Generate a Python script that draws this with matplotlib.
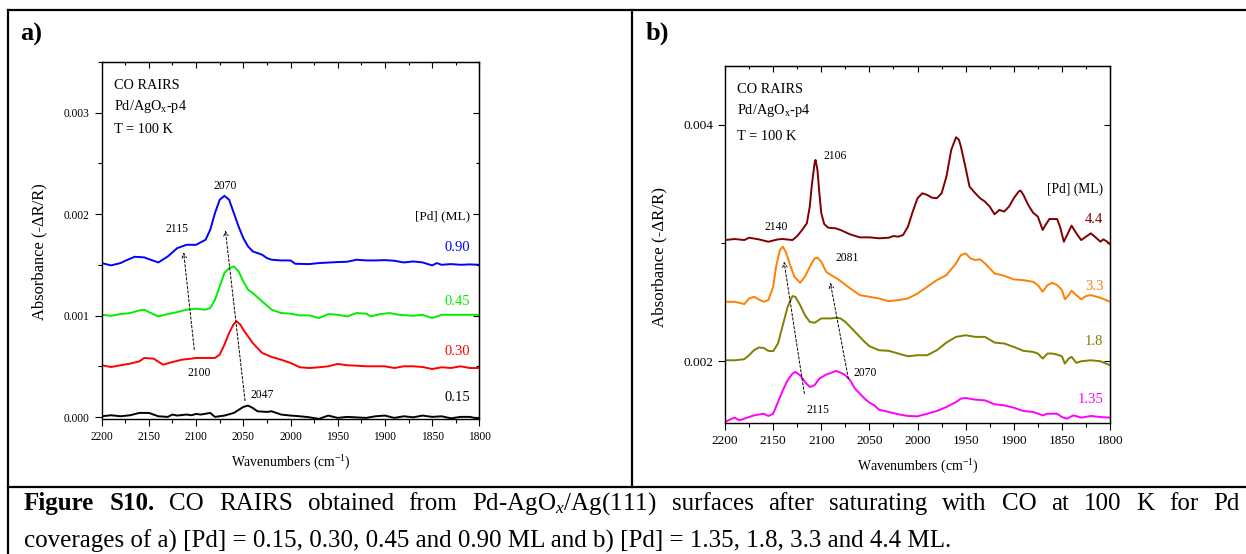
import matplotlib
matplotlib.use("Agg")
import matplotlib.pyplot as plt
from matplotlib.lines import Line2D
from matplotlib.ticker import MultipleLocator, FuncFormatter

plt.rcParams['font.family'] = ['Liberation Serif', 'DejaVu Serif']
plt.rcParams['mathtext.fontset'] = 'custom'
plt.rcParams['mathtext.rm'] = 'Liberation Serif'
plt.rcParams['mathtext.it'] = 'Liberation Serif:italic'
plt.rcParams['mathtext.bf'] = 'Liberation Serif:bold'

# ---- spectra, absorbance in units of 1e-3 ----
# a) Pd = 0.15 ... 0.90 ML
wn_a_090 = [2200, 2190, 2180, 2175, 2165, 2155, 2150, 2140, 2130, 2120, 2110, 2100, 2090, 2085,
            2080, 2075, 2070, 2065, 2060, 2055, 2050, 2045, 2040, 2030, 2025, 2020, 2010, 2000,
            1995, 1980, 1970, 1950, 1940, 1930, 1920, 1910, 1900, 1890, 1880, 1870, 1860, 1850,
            1845, 1840, 1830, 1820, 1810, 1800]
abs_a_090 = [1.518, 1.495, 1.518, 1.541, 1.580, 1.574, 1.557, 1.524, 1.583, 1.665, 1.698, 1.698,
             1.747, 1.846, 2.010, 2.141, 2.180, 2.141, 2.010, 1.878, 1.764, 1.682, 1.633, 1.600,
             1.567, 1.551, 1.544, 1.544, 1.511, 1.508, 1.518, 1.528, 1.531, 1.551, 1.544, 1.544,
             1.547, 1.541, 1.524, 1.534, 1.524, 1.495, 1.518, 1.501, 1.508, 1.501, 1.505, 1.501]

wn_a_045 = [2200, 2190, 2180, 2170, 2160, 2155, 2150, 2140, 2130, 2120, 2110, 2100, 2090, 2085,
            2080, 2075, 2070, 2065, 2060, 2055, 2050, 2045, 2040, 2030, 2020, 2010, 2000, 1990,
            1980, 1970, 1960, 1950, 1940, 1930, 1920, 1915, 1905, 1895, 1885, 1870, 1860, 1850,
            1840, 1830, 1820, 1800]
abs_a_045 = [1.009, 0.999, 1.016, 1.026, 1.052, 1.059, 1.036, 0.993, 1.016, 1.036, 1.059, 1.069,
             1.059, 1.076, 1.157, 1.288, 1.420, 1.469, 1.485, 1.436, 1.338, 1.256, 1.223, 1.141,
             1.059, 1.026, 1.020, 1.003, 1.003, 0.977, 1.016, 1.009, 0.993, 1.026, 1.020, 0.993,
             1.016, 1.026, 1.009, 0.999, 1.009, 0.977, 1.009, 1.009, 1.009, 1.009]

wn_a_030 = [2200, 2190, 2180, 2170, 2160, 2155, 2145, 2135, 2125, 2115, 2105, 2100, 2090, 2080,
            2075, 2070, 2065, 2060, 2057, 2053, 2050, 2045, 2040, 2035, 2030, 2020, 2010, 2000,
            1990, 1980, 1970, 1960, 1950, 1940, 1930, 1920, 1900, 1890, 1880, 1870, 1860, 1850,
            1840, 1830, 1820, 1810, 1800]
abs_a_030 = [0.512, 0.495, 0.512, 0.528, 0.551, 0.584, 0.577, 0.518, 0.544, 0.567, 0.577, 0.584,
             0.584, 0.584, 0.617, 0.715, 0.830, 0.921, 0.944, 0.911, 0.862, 0.797, 0.731, 0.682,
             0.633, 0.594, 0.567, 0.535, 0.492, 0.485, 0.492, 0.502, 0.525, 0.512, 0.508, 0.502,
             0.502, 0.485, 0.502, 0.502, 0.495, 0.475, 0.492, 0.485, 0.502, 0.485, 0.485]

wn_a_015 = [2200, 2190, 2180, 2170, 2160, 2150, 2140, 2130, 2125, 2120, 2110, 2105, 2100, 2095,
            2085, 2080, 2070, 2060, 2050, 2045, 2040, 2035, 2025, 2020, 2010, 2000, 1990, 1980,
            1970, 1960, 1950, 1940, 1920, 1910, 1900, 1890, 1880, 1870, 1860, 1850, 1840, 1830,
            1820, 1810, 1800]
abs_a_015 = [0.010, 0.020, 0.010, 0.020, 0.043, 0.043, 0.010, 0.004, 0.027, 0.017, 0.027, 0.020,
             0.033, 0.027, 0.043, 0.004, 0.017, 0.043, 0.102, 0.115, 0.092, 0.059, 0.053, 0.059,
             0.027, 0.017, 0.010, 0.000, -0.016, 0.017, -0.006, 0.004, -0.006, 0.010, 0.017,
             -0.006, 0.010, 0.000, 0.017, 0.004, 0.010, -0.010, 0.004, 0.004, -0.016]

# b) Pd = 1.35 ... 4.4 ML
wn_b_44 = [2200, 2190, 2180, 2175, 2165, 2155, 2145, 2140, 2130, 2125, 2120, 2115, 2112, 2110,
           2107, 2106, 2104, 2102, 2100, 2097, 2093, 2085, 2080, 2070, 2060, 2050, 2040, 2030,
           2025, 2020, 2015, 2010, 2005, 2000, 1995, 1990, 1985, 1980, 1975, 1970, 1965, 1960,
           1957, 1955, 1950, 1946, 1940, 1935, 1930, 1925, 1920, 1915, 1910, 1905, 1900, 1895,
           1893, 1890, 1885, 1880, 1875, 1870, 1867, 1863, 1855, 1852, 1848, 1843, 1840, 1835,
           1830, 1825, 1820, 1815, 1810, 1807, 1803, 1800]
abs_b_44 = [3.025, 3.034, 3.025, 3.045, 3.031, 3.011, 3.031, 3.034, 3.025, 3.059, 3.110, 3.167,
            3.308, 3.477, 3.675, 3.703, 3.619, 3.421, 3.251, 3.161, 3.130, 3.124, 3.110, 3.073,
            3.048, 3.048, 3.040, 3.045, 3.059, 3.054, 3.068, 3.138, 3.266, 3.379, 3.421, 3.407,
            3.384, 3.379, 3.421, 3.562, 3.788, 3.895, 3.873, 3.816, 3.633, 3.477, 3.421, 3.379,
            3.350, 3.308, 3.243, 3.280, 3.266, 3.308, 3.379, 3.435, 3.444, 3.407, 3.322, 3.257,
            3.223, 3.110, 3.153, 3.203, 3.203, 3.138, 3.011, 3.096, 3.147, 3.082, 3.025, 3.054,
            3.082, 3.048, 3.011, 3.031, 3.011, 2.989]

wn_b_33 = [2200, 2190, 2185, 2180, 2175, 2170, 2165, 2160, 2155, 2150, 2147, 2143, 2140, 2137,
           2133, 2128, 2122, 2117, 2112, 2107, 2104, 2100, 2095, 2090, 2085, 2080, 2070, 2060,
           2050, 2040, 2030, 2020, 2010, 2000, 1990, 1980, 1970, 1960, 1955, 1950, 1945, 1940,
           1935, 1930, 1920, 1910, 1900, 1890, 1880, 1875, 1870, 1865, 1860, 1855, 1850, 1847,
           1843, 1840, 1835, 1830, 1825, 1820, 1810, 1800]
abs_b_33 = [2.503, 2.503, 2.494, 2.483, 2.531, 2.545, 2.523, 2.503, 2.517, 2.630, 2.799, 2.941,
            2.969, 2.927, 2.828, 2.715, 2.664, 2.715, 2.799, 2.870, 2.876, 2.842, 2.757, 2.729,
            2.706, 2.678, 2.616, 2.559, 2.545, 2.531, 2.508, 2.517, 2.531, 2.573, 2.630, 2.686,
            2.729, 2.828, 2.898, 2.912, 2.870, 2.856, 2.862, 2.828, 2.743, 2.723, 2.692, 2.686,
            2.672, 2.644, 2.588, 2.644, 2.664, 2.644, 2.602, 2.525, 2.559, 2.596, 2.559, 2.525,
            2.551, 2.559, 2.537, 2.503]

wn_b_18 = [2200, 2190, 2180, 2175, 2170, 2165, 2160, 2155, 2150, 2145, 2140, 2135, 2130, 2127,
           2122, 2117, 2112, 2107, 2100, 2090, 2085, 2080, 2075, 2070, 2065, 2060, 2055, 2050,
           2040, 2030, 2020, 2010, 2000, 1990, 1980, 1970, 1960, 1950, 1940, 1930, 1920, 1910,
           1900, 1890, 1880, 1875, 1870, 1865, 1860, 1855, 1850, 1847, 1843, 1840, 1835, 1830,
           1820, 1810, 1800]
abs_b_18 = [2.008, 2.008, 2.017, 2.051, 2.093, 2.116, 2.113, 2.088, 2.085, 2.150, 2.305, 2.460,
            2.551, 2.545, 2.475, 2.390, 2.333, 2.325, 2.362, 2.362, 2.367, 2.362, 2.333, 2.291,
            2.249, 2.206, 2.164, 2.127, 2.093, 2.088, 2.065, 2.042, 2.051, 2.051, 2.093, 2.158,
            2.206, 2.220, 2.206, 2.206, 2.158, 2.150, 2.121, 2.088, 2.079, 2.065, 2.023, 2.065,
            2.065, 2.056, 2.042, 1.980, 2.023, 2.037, 1.986, 2.000, 2.008, 2.000, 1.966]

wn_b_135 = [2200, 2195, 2190, 2185, 2180, 2170, 2160, 2155, 2150, 2145, 2140, 2135, 2130, 2127,
            2122, 2117, 2112, 2107, 2102, 2095, 2090, 2085, 2080, 2075, 2070, 2065, 2060, 2055,
            2050, 2045, 2040, 2030, 2020, 2010, 2000, 1990, 1980, 1970, 1960, 1955, 1950, 1940,
            1930, 1920, 1910, 1900, 1890, 1880, 1870, 1865, 1855, 1850, 1845, 1838, 1830, 1820,
            1810, 1800]
abs_b_135 = [1.486, 1.506, 1.523, 1.500, 1.514, 1.542, 1.556, 1.537, 1.556, 1.655, 1.754, 1.839,
             1.895, 1.910, 1.881, 1.825, 1.782, 1.797, 1.853, 1.887, 1.901, 1.918, 1.904, 1.881,
             1.839, 1.768, 1.726, 1.684, 1.650, 1.627, 1.590, 1.571, 1.551, 1.537, 1.534, 1.556,
             1.579, 1.613, 1.655, 1.684, 1.689, 1.675, 1.669, 1.636, 1.627, 1.607, 1.579, 1.571,
             1.542, 1.556, 1.556, 1.528, 1.514, 1.542, 1.523, 1.537, 1.528, 1.523]

labels_a = ['0.15', '0.30', '0.45', '0.90']
labels_b = ['1.35', '1.8', '3.3', '4.4']
colors_a = ['black', '#ff0000', '#00ee00', '#0000ff']
colors_b = ['#ff00ff', '#7f7f00', '#ff8000', '#800000']

series_a = [(wn_a_015, abs_a_015), (wn_a_030, abs_a_030), (wn_a_045, abs_a_045), (wn_a_090, abs_a_090)]
series_b = [(wn_b_135, abs_b_135), (wn_b_18, abs_b_18), (wn_b_33, abs_b_33), (wn_b_44, abs_b_44)]

caption_1 = ['Figure', 'S10.', 'CO', 'RAIRS', 'obtained', 'from', r'Pd-AgO$_\mathit{x}$/Ag(111)',
             'surfaces', 'after', 'saturating', 'with', 'CO', 'at', '100', 'K', 'for', 'Pd']
caption_2 = 'coverages of a) [Pd] = 0.15, 0.30, 0.45 and 0.90 ML and b) [Pd] = 1.35, 1.8, 3.3 and 4.4 ML.'

W, H = 1246, 554
fig = plt.figure(figsize=(W / 100, H / 100), dpi=100)


def px(x, y):
    return x / W, 1 - y / H


def setup_axes(ax, ylim, major, minor, ticksize):
    ax.set_xlim(2200, 1800)
    ax.set_ylim(*ylim)
    ax.xaxis.set_major_locator(MultipleLocator(50))
    ax.xaxis.set_minor_locator(MultipleLocator(25))
    ax.yaxis.set_major_locator(MultipleLocator(major))
    ax.yaxis.set_minor_locator(MultipleLocator(minor))
    ax.yaxis.set_major_formatter(FuncFormatter(lambda v, p: "%.3f" % (v * 1e-3)))
    ax.tick_params(which='both', direction='out', labelsize=ticksize, width=0.8,
                   top=False, right=False)
    ax.tick_params(which='major', length=5, pad=3.5)
    ax.tick_params(which='minor', length=3)
    for s in ax.spines.values():
        s.set_linewidth(1.0)
    # mirrored inner ticks on top and right
    sec = ax.secondary_xaxis('top')
    sec.xaxis.set_major_locator(MultipleLocator(50))
    sec.xaxis.set_minor_locator(MultipleLocator(25))
    sec.tick_params(which='both', direction='in', labeltop=False, width=0.8)
    sec.tick_params(which='major', length=4)
    sec.tick_params(which='minor', length=2)
    sec2 = ax.secondary_yaxis('right')
    sec2.yaxis.set_major_locator(MultipleLocator(major))
    sec2.yaxis.set_minor_locator(MultipleLocator(minor))
    sec2.tick_params(which='both', direction='in', labelright=False, width=0.8)
    sec2.tick_params(which='major', length=4)
    sec2.tick_params(which='minor', length=2)


def arrow(ax, tail, head):
    ax.annotate('', xy=head, xytext=tail,
                arrowprops=dict(arrowstyle='->', linestyle=(0, (2.5, 2)), lw=0.7,
                                color='black', shrinkA=0, shrinkB=0, mutation_scale=8))


# ---- panel a ----
ax1 = fig.add_axes([0.0816, 0.2431, 0.3031, 0.6455])
setup_axes(ax1, (-0.02, 3.5), 1, 0.5, 8.3)
for (wn, ab), c in zip(series_a, colors_a):
    ax1.plot(wn, ab, color=c, lw=1.4)

ax1.set_xlabel('Wavenumbers (cm$^{-1}$)', fontsize=9.8)
ax1.set_ylabel('Absorbance (-ΔR/R)', fontsize=11.9)
ax1.xaxis.set_label_coords(0.5, -0.095)
ax1.yaxis.set_label_coords(-0.145, 0.47)

info = ['CO RAIRS', r'Pd/AgO$_\mathrm{x}$-p4', 'T = 100 K']
for txt, yv in zip(info, [3.229, 3.026, 2.803]):
    ax1.text(2186.6, yv, txt, fontsize=10.3, va='baseline', ha='left')

ax1.text(1810, 1.976, '[Pd] (ML)', fontsize=9.6, ha='right', va='center')
for lab, c, yv in zip(labels_a, colors_a, [0.190, 0.649, 1.141, 1.675]):
    ax1.text(1810, yv, lab, color=c, fontsize=10.5, ha='right', va='center')

for lab, xv, yv in [('2070', 2069, 2.272), ('2115', 2120.6, 1.852),
                    ('2100', 2096.6, 0.436), ('2047', 2030.5, 0.217)]:
    ax1.text(xv, yv, lab, fontsize=8.4, ha='center', va='center')
arrow(ax1, (2101.9, 0.666), (2113.2, 1.623))
arrow(ax1, (2048.2, 0.164), (2069.0, 1.84))

# ---- panel b ----
ax2 = fig.add_axes([0.5819, 0.2370, 0.3090, 0.6444])
setup_axes(ax2, (1.48, 4.5), 2, 1, 9.6)
for (wn, ab), c in zip(series_b, colors_b):
    ax2.plot(wn, ab, color=c, lw=1.4)

ax2.set_xlabel('Wavenumbers (cm$^{-1}$)', fontsize=10)
ax2.set_ylabel('Absorbance (-ΔR/R)', fontsize=12.2)
ax2.xaxis.set_label_coords(0.5, -0.099)
ax2.yaxis.set_label_coords(-0.151, 0.464)

for txt, yv in zip(info, [4.268, 4.090, 3.873]):
    ax2.text(2187.2, yv, txt, fontsize=10.4, va='baseline', ha='left')

ax2.text(1807, 3.455, '[Pd] (ML)', fontsize=9.8, ha='right', va='center')
for lab, c, yv in zip(labels_b, colors_b, [1.675, 2.164, 2.636, 3.195]):
    ax2.text(1807, yv, lab, color=c, fontsize=10.5, ha='right', va='center')

for lab, xv, yv in [('2106', 2086, 3.737), ('2140', 2146.7, 3.138), ('2081', 2073.3, 2.870),
                    ('2070', 2054.5, 1.904), ('2115', 2103.4, 1.585)]:
    ax2.text(xv, yv, lab, fontsize=8.4, ha='center', va='center')
arrow(ax2, (2117.6, 1.726), (2138.7, 2.842))
arrow(ax2, (2071.9, 1.853), (2090.6, 2.664))

# ---- panel letters ----
fig.text(*px(20, 41), 'a)', fontsize=19, fontweight='bold', va='baseline')
fig.text(*px(646, 40), 'b)', fontsize=19, fontweight='bold', va='baseline')

# ---- table frame ----
frame = [((7.5, 10), (W, 10)), ((7.5, 10), (7.5, H)), ((632, 10), (632, 487)),
         ((7.5, 487), (W, 487))]
for (x0, y0), (x1, y1) in frame:
    fig.add_artist(Line2D([x0 / W, x1 / W], [1 - y0 / H, 1 - y1 / H],
                          transform=fig.transFigure, color='black', lw=1.6))

# ---- caption: first line justified between the cell margins ----
cap_size = 18
words = []
for i, w in enumerate(caption_1):
    words.append(fig.text(*px(24, 510), w, fontsize=cap_size, va='baseline', ha='left',
                          fontweight='bold' if i < 2 else 'normal'))
renderer = fig.canvas.get_renderer()
widths = [t.get_window_extent(renderer).width for t in words]
gap = (1240 - 24 - sum(widths)) / (len(words) - 1)
xpos = 24
for t, wd in zip(words, widths):
    t.set_x(xpos / W)
    xpos += wd + gap

fig.text(*px(24, 548), caption_2, fontsize=cap_size, va='baseline', ha='left')

fig.savefig('out.png', dpi=100)
